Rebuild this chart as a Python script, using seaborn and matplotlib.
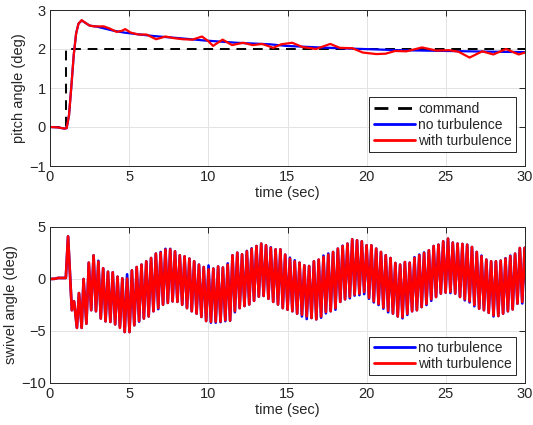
import numpy as np
import pandas as pd
import matplotlib
matplotlib.use("Agg")
import matplotlib.pyplot as plt
import seaborn as sns

# ---------------- pitch response ----------------
command_t = [0.0, 1.0, 1.0, 30.0]
command_v = [0.0, 0.0, 2.0, 2.0]

pitch_calm_t = [0, 0.5, 0.9, 1.05, 1.2, 1.35, 1.5, 1.65, 1.8, 2.0, 2.2, 2.5, 3.0, 3.5,
                4.0, 4.7, 5.5, 6.6, 8.1, 9.7, 11.8, 13.9, 14.9, 17, 19, 22, 25, 28, 30]
pitch_calm_v = [0, -0.01, -0.04, -0.03, 0.3, 1.05, 1.85, 2.4, 2.65, 2.73, 2.68, 2.6, 2.57, 2.52,
                2.47, 2.42, 2.38, 2.33, 2.28, 2.22, 2.16, 2.12, 2.08, 2.04, 2.01, 1.97, 1.95, 1.93, 1.92]

pitch_turb_t = [0, 0.5, 0.9, 1.05, 1.2, 1.35, 1.5, 1.65, 1.8, 2.0, 2.2, 2.5, 2.8, 3.1, 3.4,
                3.8, 4.2, 4.5, 4.75, 5.1, 5.6, 6.1, 6.7, 7.3, 7.8, 8.4, 9.0, 9.6, 10.0, 10.3,
                10.9, 11.5, 12.2, 12.8, 13.4, 14.1, 14.6, 15.3, 15.95, 16.8, 17.7, 18.3, 19.1,
                19.75, 20.6, 21.2, 21.8, 22.5, 23.5, 24.4, 25.2, 25.8, 26.5, 27.3, 28.0, 28.8,
                29.6, 30.0]
pitch_turb_v = [0, -0.01, -0.04, -0.03, 0.3, 1.05, 1.85, 2.4, 2.65, 2.74, 2.68, 2.6, 2.58, 2.58, 2.58,
                2.52, 2.44, 2.46, 2.51, 2.42, 2.37, 2.37, 2.25, 2.32, 2.28, 2.25, 2.24, 2.32, 2.2, 2.08,
                2.24, 2.1, 2.16, 2.1, 2.13, 2.03, 2.12, 2.16, 2.05, 2.0, 2.13, 2.03, 2.02,
                1.91, 1.87, 1.88, 1.95, 1.94, 2.04, 1.96, 1.97, 1.93, 1.78, 1.94, 1.86, 2.0,
                1.86, 1.91]

# ---------------- swivel response ----------------
# start-up transient, identical for both runs
swivel_start_t = [0, 0.3, 0.5, 1.0, 1.14, 1.38, 1.52, 1.70, 1.83, 2.0, 2.12, 2.3]
swivel_start_v = [0, 0.02, 0.1, 0.1, 4.1, -3.0, -2.15, -4.7, -1.35, -4.7, 0.0, -4.3]

# oscillation extrema after the transient (one crest + one trough per cycle)
swivel_t0 = 2.45
cycle_period = 0.3025

turb_crest = [1.57, 2.27, 1.67, 1.03, 0.70, 0.64, 0.22, 0.06, 0.03,
              0.83, 1.15, 1.38, 1.70, 2.02, 2.44, 2.53, 2.82, 2.85, 2.66, 2.28, 2.18, 1.96, 1.70, 1.38, 1.15, 0.93,
              1.00, 1.20, 1.10, 1.38, 2.28, 2.53, 2.37, 2.66, 2.90, 3.17, 3.40, 3.24, 3.00, 2.85, 2.85, 2.34, 1.96,
              1.70, 1.57, 1.31, 1.25, 1.70, 1.86, 2.12, 2.34, 2.60, 2.92, 3.17, 3.40, 3.81, 3.72, 3.62, 3.24,
              3.24, 2.92, 2.60, 2.28, 2.02, 1.54, 1.38, 1.63, 1.57, 2.02, 2.28, 2.50, 2.76, 3.17, 3.30, 3.62, 3.88,
              3.50, 3.40, 3.37, 3.30, 3.08, 2.60, 2.18, 1.86, 1.70, 1.70, 1.76, 1.96, 2.20, 2.44, 2.98, 3.00]
turb_trough = [-3.0, -3.1, -3.8, -4.07, -4.13, -4.36, -4.7, -5.1, -5.1,
               -4.45, -4.04, -3.8, -3.6, -3.1, -2.8, -2.47, -2.3, -2.15, -2.2, -2.47, -2.8, -3.1, -3.33, -3.65, -4.04, -4.13,
               -4.1, -4.1, -3.97, -4.0, -3.1, -2.8, -2.6, -2.45, -2.1, -1.7, -1.63, -1.9, -2.2, -2.45, -2.8, -2.95, -3.1,
               -3.33, -3.43, -3.6, -3.75, -3.88, -3.6, -3.17, -3.1, -2.8, -2.2, -1.95, -1.73, -1.5, -1.41, -1.25, -1.8,
               -2.15, -2.4, -2.75, -3.05, -3.33, -3.6, -3.67, -3.35, -3.1, -3.0, -2.7, -2.4, -1.95, -1.73, -1.4, -1.3, -1.25,
               -1.4, -1.73, -1.95, -2.15, -2.5, -2.85, -3.0, -3.25, -3.5, -3.56, -3.33, -3.1, -2.92, -2.37, -2.2, -2.1]

calm_crest = [1.57, 2.27, 1.75, 1.03, 0.70, 0.64, 0.22, 0.06, 0.45,
              0.83, 1.15, 1.38, 1.70, 2.02, 2.44, 2.60, 2.90, 2.90, 2.66, 2.28, 2.18, 1.96, 1.70, 1.38, 1.15, 1.30,
              1.00, 1.20, 1.10, 1.50, 2.28, 2.53, 2.37, 2.70, 2.95, 3.17, 3.40, 3.24, 3.05, 2.85, 2.85, 2.34, 2.05,
              1.80, 1.57, 1.31, 1.25, 1.70, 1.86, 2.25, 2.45, 2.60, 2.92, 3.20, 3.40, 3.81, 3.72, 3.62, 3.24,
              3.24, 2.92, 2.60, 2.28, 2.02, 1.54, 1.38, 1.63, 1.57, 2.10, 2.35, 2.55, 2.76, 3.17, 3.30, 3.62, 3.88,
              3.50, 3.40, 3.37, 3.30, 3.08, 2.60, 2.25, 1.86, 1.70, 1.70, 1.76, 2.00, 2.25, 2.44, 2.98, 3.00]
calm_trough = [-3.0, -3.1, -3.8, -4.07, -4.13, -4.36, -4.6, -5.1, -5.1,
               -4.45, -4.1, -3.8, -3.6, -3.1, -2.9, -2.47, -2.3, -2.15, -2.2, -2.47, -2.8, -3.1, -3.33, -3.65, -4.04, -4.2,
               -4.2, -4.15, -4.05, -4.0, -3.2, -2.8, -2.6, -2.45, -2.1, -1.7, -1.63, -1.9, -2.2, -2.45, -2.8, -2.95, -3.1,
               -3.33, -3.6, -3.85, -3.75, -3.88, -3.72, -3.3, -3.1, -2.95, -2.2, -1.95, -1.85, -1.6, -1.55, -1.45, -1.9,
               -2.25, -2.5, -2.85, -3.2, -3.33, -3.6, -3.78, -3.45, -3.1, -3.0, -2.7, -2.5, -2.1, -1.73, -1.4, -1.3, -1.35,
               -1.4, -1.73, -2.05, -2.25, -2.62, -2.85, -3.0, -3.25, -3.6, -3.56, -3.33, -3.1, -2.92, -2.37, -2.35, -2.25]


def swivel_trace(crest, trough):
    n = len(crest)
    crest_t = swivel_t0 + cycle_period * np.arange(n)
    trough_t = crest_t + cycle_period / 2
    t = np.empty(2 * n)
    v = np.empty(2 * n)
    t[0::2], t[1::2] = crest_t, trough_t
    v[0::2], v[1::2] = crest, trough
    return (np.concatenate([swivel_start_t, t]), np.concatenate([swivel_start_v, v]))


sw_calm_t, sw_calm_v = swivel_trace(calm_crest, calm_trough)
sw_turb_t, sw_turb_v = swivel_trace(turb_crest, turb_trough)

# ---------------- styling ----------------
sns.set_theme(style="whitegrid")
plt.rcParams["font.family"] = ["Liberation Sans", "DejaVu Sans"]
plt.rcParams.update({
    "axes.edgecolor": "#262626",
    "axes.linewidth": 0.7,
    "grid.color": "#e3e3e3",
    "grid.linewidth": 0.7,
    "xtick.color": "#262626",
    "ytick.color": "#262626",
    "axes.labelcolor": "#262626",
})

fig = plt.figure(figsize=(5.33, 4.25), dpi=100)
ax1 = fig.add_axes([50 / 533, 1 - 166 / 425, 475 / 533, 156 / 425])
ax2 = fig.add_axes([50 / 533, 1 - 383 / 425, 475 / 533, 156 / 425])

lw = 1.6
lw_swivel = 1.9

cmd_df = pd.DataFrame({"t": command_t, "v": command_v})
sns.lineplot(data=cmd_df, x="t", y="v", ax=ax1, color="black", lw=1.4,
             estimator=None, sort=False, label="command", dashes=False)
ax1.lines[-1].set_dashes([5, 3.5])
sns.lineplot(x=pitch_calm_t, y=pitch_calm_v, ax=ax1, color="blue", lw=lw,
             estimator=None, sort=False, label="no turbulence")
sns.lineplot(x=pitch_turb_t, y=pitch_turb_v, ax=ax1, color="red", lw=lw,
             estimator=None, sort=False, label="with turbulence")

sns.lineplot(x=sw_calm_t, y=sw_calm_v, ax=ax2, color="blue", lw=lw_swivel,
             estimator=None, sort=False, label="no turbulence")
sns.lineplot(x=sw_turb_t, y=sw_turb_v, ax=ax2, color="red", lw=lw_swivel,
             estimator=None, sort=False, label="with turbulence")

for ax, ylim, yticks, ylab, leg_y in [
        (ax1, (-1, 3), [-1, 0, 1, 2, 3], "pitch angle (deg)", 0.09),
        (ax2, (-10, 5), [-10, -5, 0, 5], "swivel angle (deg)", 0.05)]:
    ax.set_xlim(0, 30)
    ax.set_ylim(*ylim)
    ax.set_xticks([0, 5, 10, 15, 20, 25, 30])
    ax.set_yticks(yticks)
    ax.set_xlabel("time (sec)", fontsize=10.5, labelpad=1)
    ax.set_ylabel(ylab, fontsize=10.5, labelpad=2)
    ax.tick_params(axis="both", which="major", labelsize=10.5, direction="in",
                   length=4, width=0.7, top=True, right=True, pad=3)
    for s in ax.spines.values():
        s.set_visible(True)
        s.set_color("#262626")
        s.set_linewidth(0.7)
    leg = ax.legend(loc="lower right", bbox_to_anchor=(0.981, leg_y), fontsize=10,
                    frameon=True, fancybox=False, framealpha=1, edgecolor="#262626",
                    handlelength=3.0, handletextpad=0.2, borderpad=0.3,
                    labelspacing=0.15, borderaxespad=0)
    leg.get_frame().set_linewidth(0.7)
    for h in leg.legend_handles:
        h.set_linewidth(2.0)

fig.savefig("out.png", dpi=100)
